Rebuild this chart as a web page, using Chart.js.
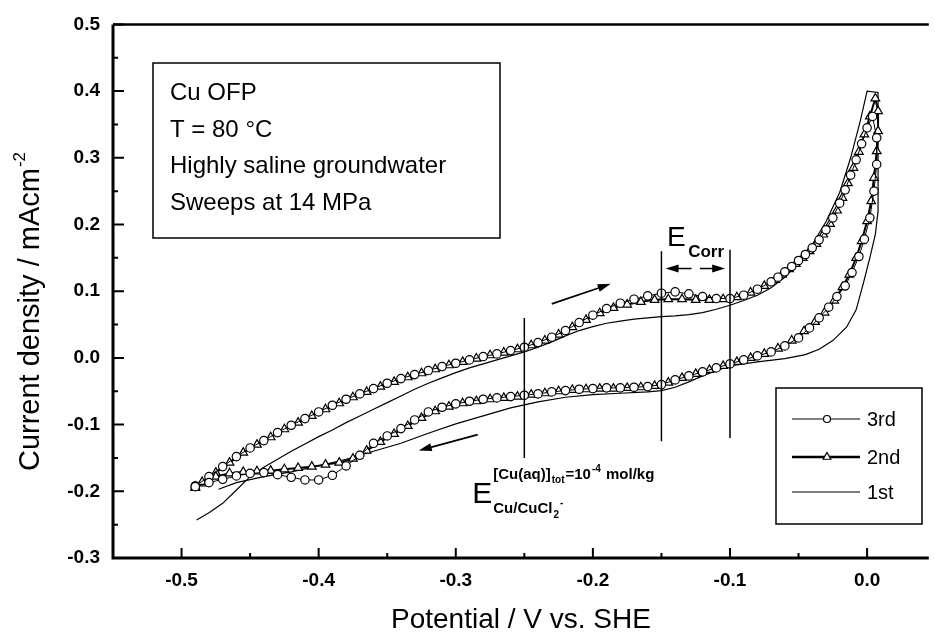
<!DOCTYPE html>
<html>
<head>
<meta charset="utf-8">
<script src="https://cdn.jsdelivr.net/npm/chart.js@4.4.1/dist/chart.umd.min.js"></script>
<style>
  html, body { margin: 0; padding: 0; background: #fff; }
  #cv { display: block; }
</style>
</head>
<body>
<canvas id="cv" width="935" height="636" style="width:935px;height:636px"></canvas>
<script>
// axis ticks
const xTicks = [-0.5, -0.4, -0.3, -0.2, -0.1, 0.0];
const xMinor = [-0.45, -0.35, -0.25, -0.15, -0.05];
const yTicks = [-0.3, -0.2, -0.1, 0.0, 0.1, 0.2, 0.3, 0.4, 0.5];
const yMinor = [-0.25, -0.15, -0.05, 0.05, 0.15, 0.25, 0.35, 0.45];

// 3rd sweep (circles): forward then reverse
const thirdX = [-0.49, -0.48, -0.47, -0.46, -0.45, -0.44, -0.43, -0.42, -0.41, -0.40,
  -0.39, -0.38, -0.37, -0.36, -0.35, -0.34, -0.33, -0.32, -0.31, -0.30,
  -0.29, -0.28, -0.27, -0.26, -0.25, -0.24, -0.23, -0.22, -0.21, -0.20,
  -0.19, -0.18, -0.17, -0.16, -0.15, -0.14, -0.13, -0.12, -0.11, -0.10,
  -0.09, -0.08, -0.07, -0.065, -0.06, -0.055, -0.05, -0.045, -0.04, -0.035,
  -0.03, -0.025, -0.02, -0.016, -0.012, -0.008, -0.004, 0.0, 0.004,
  0.007, 0.007, 0.005, 0.002, -0.002, -0.006, -0.011, -0.016, -0.022, -0.028,
  -0.035, -0.042, -0.05, -0.06, -0.07, -0.08, -0.09, -0.10, -0.11, -0.12,
  -0.13, -0.14, -0.15, -0.16, -0.17, -0.18, -0.19, -0.20, -0.21, -0.22,
  -0.23, -0.24, -0.25, -0.26, -0.27, -0.28, -0.29, -0.30, -0.31, -0.32,
  -0.33, -0.34, -0.35, -0.36, -0.37, -0.38, -0.39, -0.40, -0.41, -0.42,
  -0.43, -0.44, -0.45, -0.46, -0.47, -0.48, -0.49];
const thirdY = [-0.192, -0.178, -0.163, -0.148, -0.135, -0.124, -0.112, -0.101, -0.091, -0.081,
  -0.071, -0.062, -0.054, -0.046, -0.038, -0.031, -0.025, -0.019, -0.013, -0.008,
  -0.003, 0.002, 0.006, 0.011, 0.016, 0.023, 0.031, 0.041, 0.053, 0.064,
  0.074, 0.082, 0.088, 0.093, 0.097, 0.099, 0.096, 0.092, 0.089, 0.089,
  0.094, 0.103, 0.114, 0.121, 0.129, 0.137, 0.146, 0.155, 0.165, 0.177,
  0.192, 0.210, 0.232, 0.252, 0.274, 0.297, 0.321, 0.345, 0.362,
  0.33, 0.29, 0.25, 0.21, 0.178, 0.152, 0.128, 0.108, 0.092, 0.076,
  0.060, 0.045, 0.030, 0.018, 0.009, 0.003, -0.003, -0.009, -0.015, -0.021,
  -0.027, -0.033, -0.040, -0.043, -0.044, -0.045, -0.045, -0.046, -0.047, -0.049,
  -0.051, -0.054, -0.056, -0.058, -0.060, -0.062, -0.065, -0.069, -0.074, -0.081,
  -0.093, -0.106, -0.117, -0.128, -0.146, -0.162, -0.176, -0.183, -0.183, -0.179,
  -0.175, -0.172, -0.173, -0.177, -0.182, -0.187, -0.193];

// 2nd sweep (triangles)
const secondX = [-0.49, -0.485, -0.475, -0.465, -0.455, -0.445, -0.435, -0.425, -0.415, -0.405,
  -0.395, -0.385, -0.375, -0.365, -0.355, -0.345, -0.335, -0.325, -0.315, -0.305,
  -0.295, -0.285, -0.275, -0.265, -0.255, -0.245, -0.235, -0.225, -0.215, -0.205,
  -0.195, -0.185, -0.175, -0.165, -0.155, -0.145, -0.135, -0.125, -0.115, -0.105,
  -0.095, -0.085, -0.075, -0.067, -0.062, -0.057, -0.052, -0.047, -0.042, -0.037,
  -0.032, -0.027, -0.022, -0.018, -0.014, -0.010, -0.006, -0.002, 0.002, 0.006,
  0.008, 0.008, 0.007, 0.005, 0.003, 0.0, -0.004, -0.008, -0.013, -0.018,
  -0.024, -0.031, -0.038, -0.046, -0.055, -0.065, -0.075, -0.085, -0.095, -0.105,
  -0.115, -0.125, -0.135, -0.145, -0.155, -0.165, -0.175, -0.185, -0.195, -0.205,
  -0.215, -0.225, -0.235, -0.245, -0.255, -0.265, -0.275, -0.285, -0.295, -0.305,
  -0.315, -0.325, -0.335, -0.345, -0.355, -0.365, -0.375, -0.385, -0.395, -0.405,
  -0.415, -0.425, -0.435, -0.445, -0.455, -0.465, -0.475, -0.485, -0.49];
const secondY = [-0.195, -0.188, -0.172, -0.157, -0.142, -0.130, -0.119, -0.107, -0.097, -0.087,
  -0.077, -0.068, -0.059, -0.051, -0.043, -0.036, -0.029, -0.023, -0.017, -0.011,
  -0.006, -0.001, 0.004, 0.008, 0.013, 0.019, 0.026, 0.035, 0.046, 0.057,
  0.067, 0.075, 0.080, 0.084, 0.087, 0.088, 0.088, 0.087, 0.087, 0.088,
  0.091, 0.098, 0.108, 0.117, 0.125, 0.133, 0.141, 0.150, 0.160, 0.171,
  0.185, 0.201, 0.221, 0.240, 0.262, 0.285, 0.309, 0.335, 0.362, 0.389,
  0.37, 0.34, 0.31, 0.27, 0.235, 0.205, 0.175, 0.150, 0.125, 0.106,
  0.086, 0.068, 0.054, 0.040, 0.026, 0.014, 0.006, 0.000, -0.006, -0.012,
  -0.018, -0.024, -0.030, -0.037, -0.042, -0.044, -0.045, -0.046, -0.046, -0.047,
  -0.048, -0.050, -0.053, -0.055, -0.058, -0.060, -0.062, -0.065, -0.068, -0.073,
  -0.080, -0.090, -0.102, -0.114, -0.126, -0.139, -0.151, -0.157, -0.160, -0.163,
  -0.165, -0.167, -0.169, -0.170, -0.171, -0.173, -0.178, -0.186, -0.193];

// 1st sweep (plain line)
const firstX = [-0.489, -0.48, -0.47, -0.46, -0.45, -0.44, -0.43, -0.42, -0.41, -0.40,
  -0.39, -0.38, -0.37, -0.36, -0.35, -0.34, -0.33, -0.32, -0.31, -0.30,
  -0.29, -0.28, -0.27, -0.26, -0.25, -0.24, -0.23, -0.22, -0.21, -0.20,
  -0.19, -0.18, -0.17, -0.16, -0.15, -0.14, -0.13, -0.12, -0.11, -0.10,
  -0.09, -0.08, -0.07, -0.06, -0.05, -0.04, -0.03, -0.02, -0.012, -0.005,
  0.0, 0.008,
  0.008, 0.008, 0.006, 0.002, -0.003, -0.008, -0.015, -0.025, -0.035, -0.045,
  -0.06, -0.08, -0.10, -0.11, -0.12, -0.13, -0.14, -0.15, -0.16, -0.18,
  -0.20, -0.22, -0.24, -0.26, -0.28, -0.30, -0.32, -0.34, -0.36, -0.38,
  -0.40, -0.42, -0.44, -0.46, -0.473];
const firstY = [-0.243, -0.232, -0.218, -0.198, -0.178, -0.164, -0.152, -0.140, -0.129, -0.118,
  -0.108, -0.097, -0.087, -0.077, -0.067, -0.057, -0.047, -0.038, -0.030, -0.022,
  -0.015, -0.009, -0.003, 0.003, 0.009, 0.016, 0.024, 0.033, 0.041, 0.047,
  0.052, 0.055, 0.058, 0.060, 0.062, 0.063, 0.065, 0.068, 0.073, 0.079,
  0.086, 0.094, 0.105, 0.121, 0.143, 0.170, 0.204, 0.248, 0.300, 0.355,
  0.400, 0.398,
  0.30, 0.22, 0.185, 0.150, 0.110, 0.072, 0.046, 0.026, 0.013, 0.005,
  -0.001, -0.006, -0.012, -0.019, -0.027, -0.036, -0.044, -0.049, -0.051, -0.053,
  -0.055, -0.059, -0.066, -0.075, -0.087, -0.099, -0.113, -0.128, -0.140, -0.152,
  -0.162, -0.171, -0.178, -0.187, -0.197];

const seriesNames = ['3rd', '2nd', '1st'];
const infoLines = ['Cu OFP', 'T = 80 \u00B0C', 'Highly saline groundwater', 'Sweeps at 14 MPa'];

// annotation lines (potential, from, to)
const markerLines = [[-0.25, 0.06, -0.15], [-0.15, 0.16, -0.125], [-0.10, 0.162, -0.12]];

const FONT = "'Liberation Sans', Arial, Helvetica, sans-serif";

function pts(xs, ys) {
  return xs.map((x, i) => ({ x: x, y: ys[i] }));
}

function arrow(ctx, x1, y1, x2, y2) {
  const a = Math.atan2(y2 - y1, x2 - x1);
  const len = 13, half = 4;
  ctx.beginPath();
  ctx.moveTo(x1, y1);
  ctx.lineTo(x2 - Math.cos(a) * len * 0.8, y2 - Math.sin(a) * len * 0.8);
  ctx.stroke();
  ctx.beginPath();
  ctx.moveTo(x2, y2);
  ctx.lineTo(x2 - Math.cos(a) * len + Math.sin(a) * half, y2 - Math.sin(a) * len - Math.cos(a) * half);
  ctx.lineTo(x2 - Math.cos(a) * len - Math.sin(a) * half, y2 - Math.sin(a) * len + Math.cos(a) * half);
  ctx.closePath();
  ctx.fill();
}

function marker(ctx, style, x, y, r) {
  ctx.beginPath();
  if (style === 'circle') {
    ctx.arc(x, y, r, 0, Math.PI * 2);
  } else {
    let rad = 0;
    for (let k = 0; k < 3; k++) {
      const px = x + Math.sin(rad) * r, py = y - Math.cos(rad) * r;
      if (k === 0) ctx.moveTo(px, py); else ctx.lineTo(px, py);
      rad += Math.PI * 2 / 3;
    }
    ctx.closePath();
  }
  ctx.fillStyle = '#fff';
  ctx.fill();
  ctx.lineWidth = 1.2;
  ctx.stroke();
}

const decorations = {
  id: 'decorations',
  afterDraw(chart) {
    const ctx = chart.ctx;
    const xs = chart.scales.x, ys = chart.scales.y;
    const a = chart.chartArea;
    const X = v => xs.getPixelForValue(v);
    const Y = v => ys.getPixelForValue(v);
    ctx.save();
    ctx.strokeStyle = '#000';
    ctx.fillStyle = '#000';

    // frame: left, bottom thick; top thinner
    ctx.lineWidth = 3;
    ctx.beginPath();
    ctx.moveTo(a.left, a.top);
    ctx.lineTo(a.left, a.bottom);
    ctx.lineTo(a.right, a.bottom);
    ctx.stroke();
    ctx.lineWidth = 2.5;
    ctx.beginPath();
    ctx.moveTo(a.left, a.top);
    ctx.lineTo(a.right, a.top);
    ctx.stroke();

    // inward ticks
    ctx.lineWidth = 2;
    ctx.beginPath();
    xTicks.forEach(v => { ctx.moveTo(X(v), a.bottom); ctx.lineTo(X(v), a.bottom - 10); });
    xMinor.forEach(v => { ctx.moveTo(X(v), a.bottom); ctx.lineTo(X(v), a.bottom - 5); });
    yTicks.forEach(v => { ctx.moveTo(a.left, Y(v)); ctx.lineTo(a.left + 11, Y(v)); });
    yMinor.forEach(v => { ctx.moveTo(a.left, Y(v)); ctx.lineTo(a.left + 5, Y(v)); });
    ctx.stroke();

    // axis titles
    ctx.font = '28px ' + FONT;
    ctx.textAlign = 'center';
    ctx.textBaseline = 'alphabetic';
    ctx.fillText('Potential / V vs. SHE', (a.left + a.right) / 2, 628);

    ctx.save();
    ctx.translate(39, 312);
    ctx.rotate(-Math.PI / 2);
    ctx.textAlign = 'left';
    const main = 'Current density / mAcm';
    ctx.font = '29px ' + FONT;
    const w1 = ctx.measureText(main).width;
    ctx.font = '17px ' + FONT;
    const w2 = ctx.measureText('-2').width;
    const start = -(w1 + w2) / 2;
    ctx.font = '29px ' + FONT;
    ctx.fillText(main, start, 0);
    ctx.font = '17px ' + FONT;
    ctx.fillText('-2', start + w1 + 1, -14);
    ctx.restore();

    // info box
    ctx.lineWidth = 1.5;
    ctx.strokeRect(153, 63, 347, 175);
    ctx.font = '24px ' + FONT;
    ctx.textAlign = 'left';
    infoLines.forEach((t, i) => ctx.fillText(t, 170, 100 + i * 36.5));

    // vertical marker lines
    ctx.lineWidth = 1.5;
    ctx.beginPath();
    markerLines.forEach(m => { ctx.moveTo(X(m[0]), Y(m[1])); ctx.lineTo(X(m[0]), Y(m[2])); });
    ctx.stroke();

    // sweep direction arrows
    ctx.lineWidth = 1.6;
    arrow(ctx, X(-0.230), Y(0.081), X(-0.187), Y(0.111));
    arrow(ctx, X(-0.284), Y(-0.115), X(-0.327), Y(-0.139));

    // E_corr label and arrows
    ctx.font = '28px ' + FONT;
    ctx.fillText('E', X(-0.146), Y(0.168));
    ctx.font = 'bold 17px ' + FONT;
    ctx.fillText('Corr', X(-0.1305), Y(0.151));
    ctx.lineWidth = 1.5;
    arrow(ctx, X(-0.128), Y(0.134), X(-0.147), Y(0.134));
    arrow(ctx, X(-0.122), Y(0.134), X(-0.1035), Y(0.134));

    // E Cu/CuCl2- label
    const ex = X(-0.288), ey = Y(-0.217);
    ctx.font = '30px ' + FONT;
    ctx.fillText('E', ex, ey);
    let cx = ex + 21;
    const sup = Y(-0.181);
    const parts = [
      ['[Cu(aq)]', 'bold 15px', 0], ['tot', 'bold 10px', 4], ['=10', 'bold 15px', 0],
      ['-4', 'bold 10px', -7], [' mol/kg', 'bold 15px', 0]
    ];
    parts.forEach(p => {
      ctx.font = p[1] + ' ' + FONT;
      ctx.fillText(p[0], cx, sup + p[2]);
      cx += ctx.measureText(p[0]).width + 1;
    });
    cx = ex + 21;
    const sub = Y(-0.233);
    const subParts = [['Cu/CuCl', 'bold 15px', 0], ['2', 'bold 10px', 5], ['-', 'bold 10px', -7]];
    subParts.forEach(p => {
      ctx.font = p[1] + ' ' + FONT;
      ctx.fillText(p[0], cx, sub + p[2]);
      cx += ctx.measureText(p[0]).width + 1;
    });

    // legend
    ctx.lineWidth = 1.5;
    ctx.strokeRect(776, 388, 146, 136);
    const rows = [419, 457, 492];
    const widths = [1, 2.5, 1];
    const styles = ['circle', 'triangle', null];
    ctx.font = '20px ' + FONT;
    rows.forEach((ry, i) => {
      ctx.lineWidth = widths[i];
      ctx.beginPath();
      ctx.moveTo(792, ry);
      ctx.lineTo(860, ry);
      ctx.stroke();
      if (styles[i]) marker(ctx, styles[i], 827, ry, styles[i] === 'circle' ? 3.5 : 4.5);
      ctx.fillStyle = '#000';
      ctx.fillText(seriesNames[i], 867, ry + 7);
    });
    ctx.restore();
  }
};

const tickFont = { family: FONT, weight: 'bold', size: 19 };

new Chart(document.getElementById('cv').getContext('2d'), {
  type: 'scatter',
  data: {
    datasets: [
      {
        label: seriesNames[0], data: pts(thirdX, thirdY), showLine: true,
        borderColor: '#000', borderWidth: 1, tension: 0,
        pointStyle: 'circle', pointRadius: 4.2, pointBorderWidth: 1.2,
        pointBackgroundColor: '#fff', pointBorderColor: '#000'
      },
      {
        label: seriesNames[1], data: pts(secondX, secondY), showLine: true,
        borderColor: '#000', borderWidth: 2, tension: 0,
        pointStyle: 'triangle', pointRadius: 5, pointBorderWidth: 1.2,
        pointBackgroundColor: '#fff', pointBorderColor: '#000'
      },
      {
        label: seriesNames[2], data: pts(firstX, firstY), showLine: true,
        borderColor: '#000', borderWidth: 1.2, tension: 0, pointRadius: 0
      }
    ]
  },
  options: {
    responsive: false,
    animation: false,
    devicePixelRatio: 1,
    layout: { padding: { top: 22, right: 0, left: 0, bottom: 0 } },
    plugins: { legend: { display: false }, tooltip: { enabled: false } },
    scales: {
      x: {
        type: 'linear', min: -0.55, max: 0.045,
        afterBuildTicks: s => { s.ticks = xTicks.map(v => ({ value: v })); },
        afterFit: s => { s.height = 78; },
        grid: { display: false, drawTicks: false },
        border: { display: false },
        ticks: {
          color: '#000', font: tickFont, padding: 11, maxRotation: 0, autoSkip: false,
          callback: v => v.toFixed(1)
        }
      },
      y: {
        type: 'linear', min: -0.3, max: 0.5,
        afterBuildTicks: s => { s.ticks = yTicks.map(v => ({ value: v })); },
        afterFit: s => { s.width = 113; },
        grid: { display: false, drawTicks: false },
        border: { display: false },
        ticks: {
          color: '#000', font: tickFont, padding: 13, autoSkip: false,
          callback: v => v.toFixed(1)
        }
      }
    }
  },
  plugins: [decorations]
});
</script>
</body>
</html>
